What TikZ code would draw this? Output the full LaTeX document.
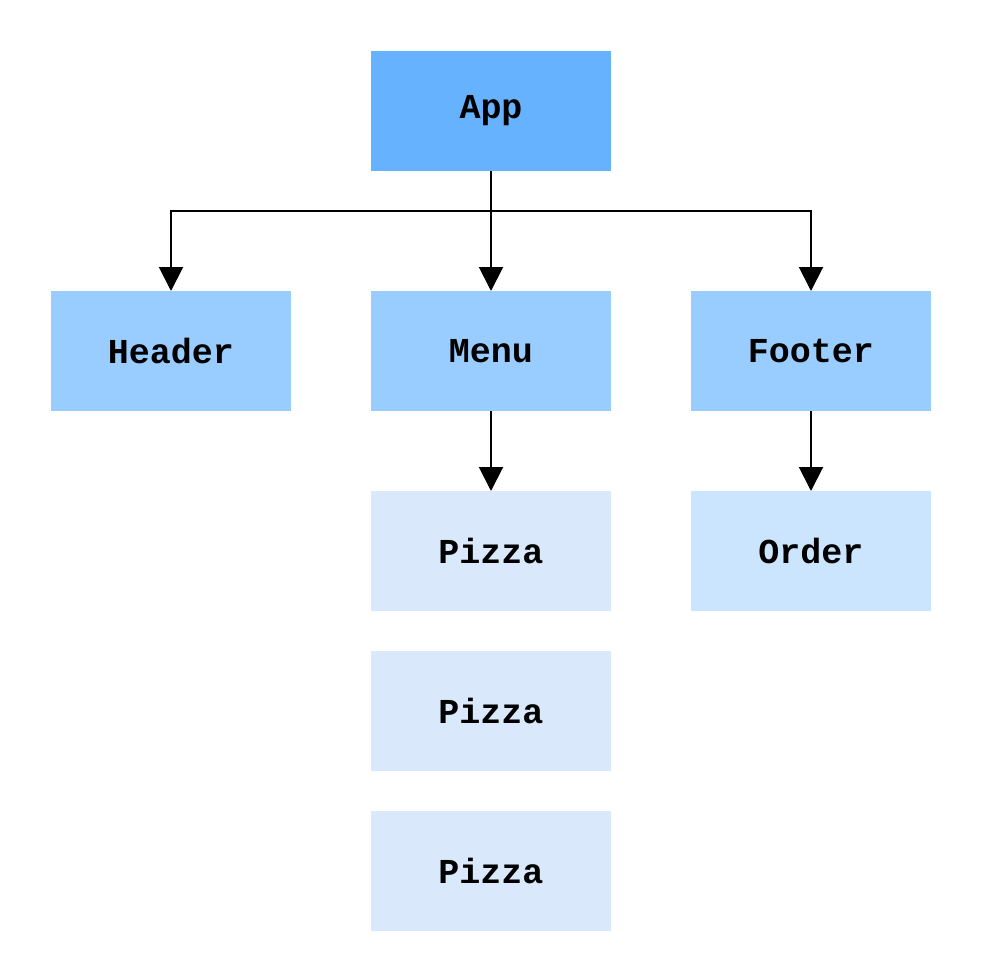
\documentclass[tikz,border=0pt]{standalone}
\usepackage{fontspec}
\setmonofont{Liberation Mono}
\usetikzlibrary{arrows.meta}
\definecolor{appc}{HTML}{66B2FF}
\definecolor{midc}{HTML}{99CCFF}
\definecolor{orderc}{HTML}{CCE5FF}
\definecolor{pizzac}{HTML}{DAE8FC}
\tikzset{
  box/.style={minimum width=240pt,minimum height=120pt,inner sep=0pt,outer sep=0pt,
    font=\fontsize{35}{40}\selectfont\ttfamily\bfseries},
  conn/.style={line width=2pt,-{Triangle[width=24pt,length=24pt]}}
}
\begin{document}
\begin{tikzpicture}[x=1pt,y=-1pt]
\useasboundingbox (0,0) rectangle (980,980);
\node[box,fill=appc] (app) at (491,111) {App};
\node[box,fill=midc] (header) at (171,351) {Header};
\node[box,fill=midc] (menu) at (491,351) {Menu};
\node[box,fill=midc] (footer) at (811,351) {Footer};
\node[box,fill=pizzac] (p1) at (491,551) {Pizza};
\node[box,fill=pizzac] (p2) at (491,711) {Pizza};
\node[box,fill=pizzac] (p3) at (491,871) {Pizza};
\node[box,fill=orderc] (order) at (811,551) {Order};
\draw[conn] (app.south) -- (menu.north);
\draw[conn] (app.south) -- ++(0,40) -| (header.north);
\draw[conn] (app.south) -- ++(0,40) -| (footer.north);
\draw[conn] (menu.south) -- (p1.north);
\draw[conn] (footer.south) -- (order.north);
\end{tikzpicture}
\end{document}
